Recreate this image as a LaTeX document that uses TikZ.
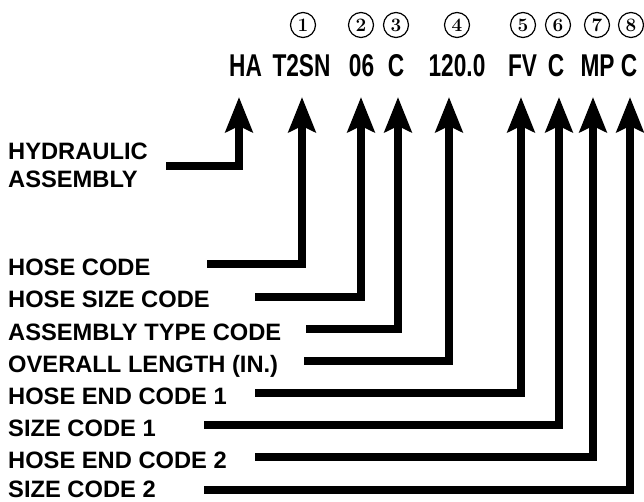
\documentclass[tikz,border=0pt]{standalone}
\usepackage{fontspec}
\newfontfamily\labfont{Liberation Sans}
\newfontfamily\codefont[FakeStretch=0.72]{Liberation Sans}
\usetikzlibrary{arrows.meta}
\begin{document}
\begin{tikzpicture}[x=1pt,y=-1pt,
  lbl/.style={anchor=base west, inner sep=0pt, font=\labfont\bfseries\fontsize{23.7}{28}\selectfont},
  code/.style={anchor=base, inner sep=0pt, font=\codefont\bfseries\fontsize{31.5}{36}\selectfont},
  num/.style={circle, draw, line width=1.2pt, minimum size=25pt, inner sep=0pt, font=\bfseries\fontsize{19}{20}\selectfont},
  conn/.style={line width=8pt, line join=miter, -{Stealth[length=35pt,width=27pt,inset=6pt]}}
]
\useasboundingbox (0,0) rectangle (644,502);
% codes
\node[code] (cHA) at (245.5,77) {HA};
\node[code] (cHose) at (301.5,77) {T2SN};
\node[code] (cSize) at (361.5,77) {06};
\node[code] (cType) at (396,77) {C};
\node[code] (cLen) at (457,77) {120.0};
\node[code] (cEnd1) at (522.5,77) {FV};
\node[code] (cSz1) at (556,77) {C};
\node[code] (cEnd2) at (597.5,77) {MP};
\node[code] (cSz2) at (629,77) {C};
% circled numbers
\node[num] (n1) at (303,25) {1};
\node[num] (n2) at (361,25) {2};
\node[num] (n3) at (396,25) {3};
\node[num] (n4) at (457,25) {4};
\node[num] (n5) at (523,25) {5};
\node[num] (n6) at (558,25) {6};
\node[num] (n7) at (597,25) {7};
\node[num] (n8) at (631,25) {8};
% labels
\node[lbl] (lHA1) at (8,160) {HYDRAULIC};
\node[lbl] (lHA2) at (8,188) {ASSEMBLY};
\node[lbl] (lHose) at (8,275) {HOSE CODE};
\node[lbl] (lSize) at (8,307.5) {HOSE SIZE CODE};
\node[lbl] (lType) at (8,340) {ASSEMBLY TYPE CODE};
\node[lbl] (lLen) at (8,372) {OVERALL LENGTH (IN.)};
\node[lbl] (lEnd1) at (8,404) {HOSE END CODE 1};
\node[lbl] (lSz1) at (8,436) {SIZE CODE 1};
\node[lbl] (lEnd2) at (8,468) {HOSE END CODE 2};
\node[lbl] (lSz2) at (8,497.5) {SIZE CODE 2};
% connector endpoints
\coordinate (sHA) at (166,166);   \coordinate (tHA) at (239,97);
\coordinate (sHose) at (207,264); \coordinate (tHose) at (302,97);
\coordinate (sSize) at (255,297); \coordinate (tSize) at (361,97);
\coordinate (sType) at (306,329); \coordinate (tType) at (398,97);
\coordinate (sLen) at (304,361);  \coordinate (tLen) at (449,97);
\coordinate (sEnd1) at (255,393); \coordinate (tEnd1) at (521,97);
\coordinate (sSz1) at (204,425);  \coordinate (tSz1) at (559,97);
\coordinate (sEnd2) at (255,457); \coordinate (tEnd2) at (593,97);
\coordinate (sSz2) at (204,490);  \coordinate (tSz2) at (630,97);
\draw[conn] (sHA) -| (tHA);
\draw[conn] (sHose) -| (tHose);
\draw[conn] (sSize) -| (tSize);
\draw[conn] (sType) -| (tType);
\draw[conn] (sLen) -| (tLen);
\draw[conn] (sEnd1) -| (tEnd1);
\draw[conn] (sSz1) -| (tSz1);
\draw[conn] (sEnd2) -| (tEnd2);
\draw[conn] (sSz2) -| (tSz2);
\end{tikzpicture}
\end{document}
